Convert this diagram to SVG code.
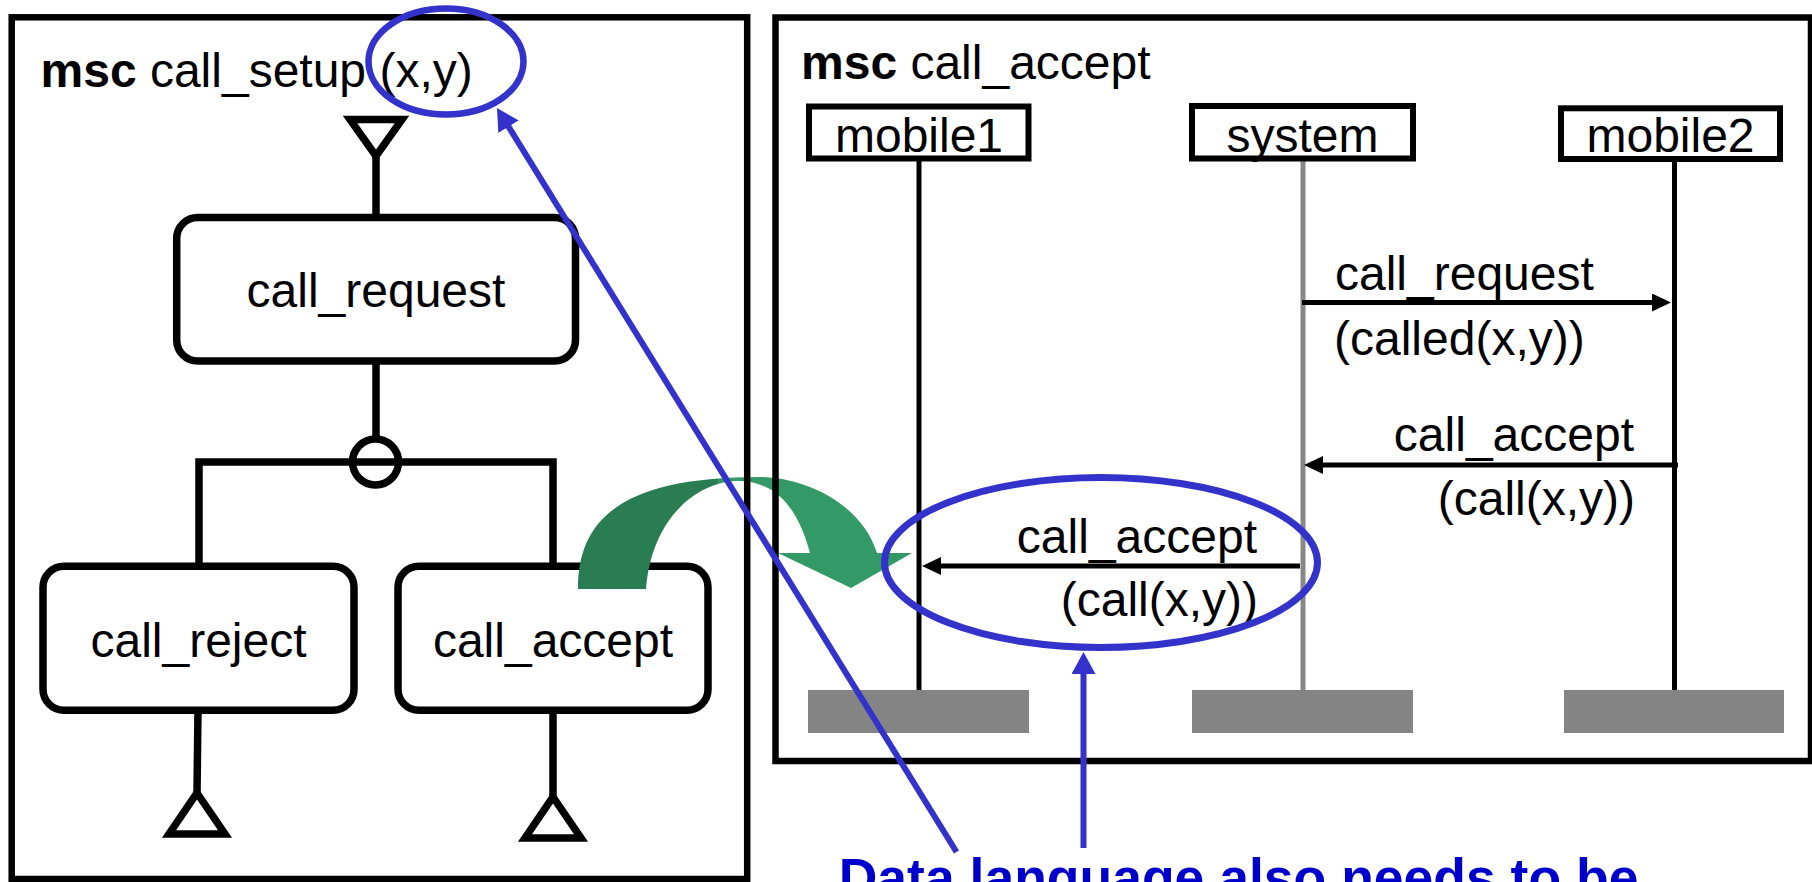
<svg xmlns="http://www.w3.org/2000/svg" width="1812" height="882" viewBox="0 0 1812 882">
<style>
  .t { font-family: "Liberation Sans", Arial, Helvetica, sans-serif; font-size: 48px; fill: #000; }
  .frame { fill: none; stroke: #000; stroke-width: 6.5; }
  .box { fill: #fff; stroke: #000; stroke-width: 7.5; }
  .ln { fill: none; stroke: #000; stroke-width: 7.5; stroke-linejoin: miter; }
  .inst { fill: #fff; stroke: #000; stroke-width: 6; }
  .life { stroke: #000; stroke-width: 5; }
  .life.gray { stroke: #888888; }
  .end { fill: #848484; }
  .msg { stroke: #000; stroke-width: 5; marker-end: url(#ah); }
  .blue { fill: none; stroke: #3333cc; }
  .barrow { stroke: #3333cc; stroke-width: 6; marker-end: url(#bh); }
</style>
<defs>
  <marker id="ah" markerUnits="userSpaceOnUse" markerWidth="19" markerHeight="18" viewBox="0 0 19 18" refX="9" refY="9" orient="auto">
    <path d="M0,0 L19,9 L0,18 Z" fill="#000"/>
  </marker>
  <marker id="bh" markerUnits="userSpaceOnUse" markerWidth="22" markerHeight="24" viewBox="0 0 22 24" refX="10" refY="12" orient="auto">
    <path d="M0,0 L22,12 L0,24 Z" fill="#3333cc"/>
  </marker>
  <linearGradient id="greenfold" gradientUnits="userSpaceOnUse" x1="578" y1="0" x2="912" y2="0">
    <stop offset="0" stop-color="#2a7d52"/>
    <stop offset="0.419" stop-color="#2a7d52"/>
    <stop offset="0.419" stop-color="#339966"/>
    <stop offset="1" stop-color="#339966"/>
  </linearGradient>
</defs>

<!-- Left MSC: call_setup (HMSC) -->
<g id="call_setup">
  <text class="t" x="40.5" y="87"><tspan font-weight="bold">msc</tspan> call_setup (x,y)</text>
  <g id="start">
    <path class="ln" d="M350,119.5 L402,119.5 L376,156 Z" stroke-width="7"/>
    <line class="ln" x1="376" y1="156" x2="376" y2="217.5"/>
  </g>
  <g id="node_call_request">
    <rect class="box" x="176.7" y="217.5" width="398.8" height="143.5" rx="21" ry="21"/>
    <text class="t" x="376" y="307" text-anchor="middle">call_request</text>
  </g>
  <g id="alt_connector">
    <line class="ln" x1="376" y1="361" x2="376" y2="440"/>
    <polyline class="ln" points="199,566 199,462 553,462 553,566"/>
    <circle class="ln" cx="375.5" cy="462" r="23" fill="#fff"/>
  </g>
  <g id="node_call_reject">
    <rect class="box" x="43" y="566.3" width="311" height="144" rx="21" ry="21"/>
    <text class="t" x="198.5" y="657" text-anchor="middle">call_reject</text>
    <line class="ln" x1="198" y1="710" x2="197" y2="793"/>
    <path class="ln" d="M197,793 L225,834 L169,834 Z" stroke-width="7"/>
  </g>
  <g id="node_call_accept_ref">
    <rect class="box" x="398" y="566.3" width="310" height="144" rx="21" ry="21"/>
    <text class="t" x="553" y="657" text-anchor="middle">call_accept</text>
    <line class="ln" x1="553" y1="710" x2="553" y2="797"/>
    <path class="ln" d="M553,797 L581,838 L525,838 Z" stroke-width="7"/>
  </g>
</g>

<!-- Right MSC: call_accept (bMSC) -->
<g id="call_accept_msc">
  <text class="t" x="801" y="78.5"><tspan font-weight="bold">msc</tspan> call_accept</text>
  <g id="inst_mobile1">
    <line class="life" x1="919" y1="158" x2="919" y2="690"/>
    <rect class="inst" x="809" y="106.5" width="219.5" height="52"/>
    <text class="t" x="919" y="151.5" text-anchor="middle">mobile1</text>
    <rect class="end" x="808" y="690" width="221" height="43"/>
  </g>
  <g id="inst_system">
    <line class="life gray" x1="1303" y1="158" x2="1303" y2="690"/>
    <rect class="inst" x="1192" y="106" width="221" height="52.5"/>
    <text class="t" x="1302.5" y="151.5" text-anchor="middle">system</text>
    <rect class="end" x="1192" y="690" width="221" height="43"/>
  </g>
  <g id="inst_mobile2">
    <line class="life" x1="1674.5" y1="158" x2="1674.5" y2="690"/>
    <rect class="inst" x="1561" y="108.3" width="219" height="50.7"/>
    <text class="t" x="1670.5" y="151.5" text-anchor="middle">mobile2</text>
    <rect class="end" x="1564" y="690" width="220" height="43"/>
  </g>
</g>

<!-- Messages -->
<g id="connectors">
  <g id="msg_call_request">
    <line class="msg" x1="1302" y1="302.5" x2="1661" y2="302.5"/>
    <text class="t" x="1335" y="290">call_request</text>
    <text class="t" x="1334" y="355">(called(x,y))</text>
  </g>
  <g id="msg_call_accept_1">
    <line class="msg" x1="1678" y1="465" x2="1314" y2="465"/>
    <text class="t" x="1634" y="451" text-anchor="end">call_accept</text>
    <text class="t" x="1635" y="515" text-anchor="end">(call(x,y))</text>
  </g>
  <g id="msg_call_accept_2">
    <line class="msg" x1="1300" y1="566" x2="932" y2="566"/>
    <text class="t" x="1257" y="553" text-anchor="end">call_accept</text>
    <text class="t" x="1258" y="616" text-anchor="end">(call(x,y))</text>
  </g>
</g>

<!-- Green curved arrow (reference expansion) -->
<g id="green_arrow">
  <path d="M578,589 C578,520 620,477 760,477 C800,477 860,500 877,553 L810,553 C800,515 780,481 738,481 C700,481 652,515 646,589 Z" fill="url(#greenfold)"/>
  <path d="M778,553 L912,553 L851,588 Z" fill="#339966"/>
</g>

<!-- Frames -->
<g id="frames">
  <rect class="frame" x="11.7" y="17.3" width="735.5" height="861.7"/>
  <rect class="frame" x="775.5" y="17.5" width="1035.5" height="743.5"/>
</g>

<!-- Blue annotations -->
<g id="annotations">
  <ellipse class="blue" cx="446" cy="61.5" rx="77.5" ry="53" stroke-width="6.5"/>
  <ellipse class="blue" cx="1101" cy="562.5" rx="216.5" ry="85" stroke-width="7"/>
  <line class="barrow" x1="956.5" y1="852" x2="503.3" y2="118.2"/>
  <line class="barrow" x1="1083.5" y1="848" x2="1083.5" y2="664"/>
  <text x="838.7" y="896" font-family="'Liberation Sans', Arial, Helvetica, sans-serif" font-size="53.5" font-weight="bold" fill="#0000cc">Data language also needs to be</text>
</g>
</svg>
